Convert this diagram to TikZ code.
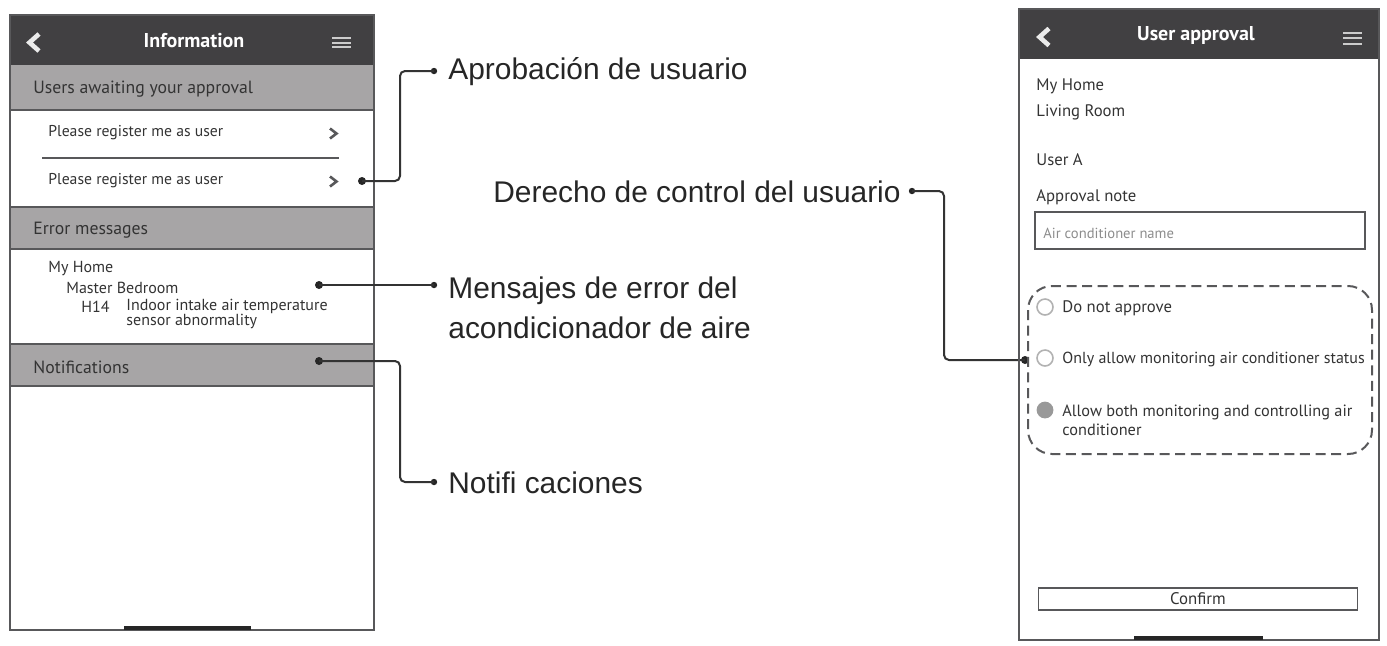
\documentclass[tikz,border=0pt]{standalone}
\usepackage{fontspec}
\setmainfont{PT Sans}
\newfontfamily\labelfont{Liberation Sans}
\definecolor{bardark}{HTML}{414042}
\definecolor{bargrey}{HTML}{A7A5A6}
\definecolor{inktext}{HTML}{333333}
\definecolor{framegrey}{HTML}{58585A}
\tikzset{
 x=0.5pt,y=-0.5pt,
 uitext/.style={anchor=west,inner sep=0pt,text=inktext,font=\fontsize{8}{9}\selectfont},
 headtext/.style={uitext,font=\fontsize{8.85}{10}\selectfont},
 rowtext/.style={uitext,font=\fontsize{7.85}{9}\selectfont},
 formtext/.style={uitext,font=\fontsize{8.35}{9}\selectfont},
 titletext/.style={anchor=center,inner sep=0pt,text=white,font=\fontsize{10}{11}\selectfont\bfseries},
 calltext/.style={anchor=west,inner sep=0pt,text=black!85,font=\labelfont\fontsize{14.95}{20}\selectfont,align=left},
 frameline/.style={draw=framegrey,line width=0.7pt},
 sepline/.style={draw=framegrey,line width=0.9pt},
 dotnode/.style={circle,fill=black!85,inner sep=0pt,minimum size=4pt},
 smalldot/.style={circle,fill=black!85,inner sep=0pt,minimum size=3.2pt},
 leader/.style={draw=black!80,line width=1pt,rounded corners=2.5pt},
 chev/.style={draw=white!92!black,line width=2.3pt,line join=miter},
 chevsmall/.style={draw=framegrey,line width=1.3pt},
 burger/.style={draw=white!80!black,line width=1pt},
 radio/.style={circle,draw=black!30,line width=0.8pt,fill=white,inner sep=0pt,minimum size=8pt},
 radioon/.style={circle,fill=black!40,inner sep=0pt,minimum size=8.4pt},
}
\begin{document}
\begin{tikzpicture}
\useasboundingbox (0,0) rectangle (1387,645);
% left phone
\fill[bardark] (10,15) rectangle (374,65);
\fill[bargrey] (10,65) rectangle (374,110);
\fill[bargrey] (10,207) rectangle (374,249);
\fill[bargrey] (10,344) rectangle (374,386);
\draw[frameline] (10,15) rectangle (374,630);
\draw[sepline] (10,110)--(374,110) (10,207)--(374,207) (10,249)--(374,249) (10,344)--(374,344) (10,386)--(374,386);
\draw[sepline,line width=0.7pt] (42,158)--(339,158);
\fill[black!85] (124,625.5) rectangle (251,629.5);
\draw[chev] (39,34)--(29.5,42.5)--(39,51);
\draw[burger] (332,38)--(351,38) (332,42.5)--(351,42.5) (332,47)--(351,47);
\node[titletext] (t1) at (194,41) {Information};
\node[headtext] (h1) at (33,89) {Users awaiting your approval};
\node[rowtext] (r1) at (48,132.5) {Please register me as user};
\node[rowtext] (r2) at (48,181) {Please register me as user};
\draw[chevsmall] (330,128.5)--(336.5,133.5)--(330,138.5);
\draw[chevsmall] (330,176.5)--(336.5,181.5)--(330,186.5);
\node[headtext] (h2) at (33,230) {Error messages};
\node[uitext] (e1) at (48,269) {My Home};
\node[uitext] (e2) at (66,288) {Master Bedroom};
\node[uitext] (e3) at (81,307) {H14};
\node[uitext,align=left,font=\fontsize{8}{7.4}\selectfont] (e4) at (126,314) {Indoor intake air temperature\\sensor abnormality};
\node[headtext] (h3) at (33,367) {Notifications};
% callouts
\node[calltext] (c1) at (448,72) {Aprobación de usuario};
\node[calltext] (c2) at (448,308) {Mensajes de error del\\acondicionador de aire};
\node[calltext] (c3) at (448,483) {Notifi caciones};
\node[calltext,anchor=east] (c4) at (901,192) {Derecho de control del usuario};
\node[dotnode] (d1a) at (362,181) {};
\node[smalldot] (d1b) at (434,71) {};
\node[dotnode] (d2a) at (319,285) {};
\node[smalldot] (d2b) at (434,285) {};
\node[dotnode] (d3a) at (319,361) {};
\node[smalldot] (d3b) at (434,482) {};
\node[smalldot] (d4a) at (912,191) {};
\node[dotnode] (d4b) at (1025,360) {};
\draw[leader] (d1a.center)--(400,181)--(400,71)--(d1b.center);
\draw[leader] (d2a.center)--(d2b.center);
\draw[leader] (d3a.center)--(400,361)--(400,482)--(d3b.center);
\draw[leader] (d4a.center)--(944,191)--(944,360)--(d4b.center);
% right phone
\fill[bardark] (1019,9) rectangle (1379,59);
\draw[frameline] (1019,9) rectangle (1379,640);
\fill[black!85] (1134,635.5) rectangle (1263,639.5);
\draw[chev] (1049,28.5)--(1039.5,37)--(1049,45.5);
\draw[burger] (1343,32.5)--(1362,32.5) (1343,38)--(1362,38) (1343,43.5)--(1362,43.5);
\node[titletext] (t2) at (1196,35) {User approval};
\node[formtext] (m1) at (1036,86) {My Home};
\node[formtext] (m2) at (1036,112) {Living Room};
\node[formtext] (m3) at (1036,160) {User A};
\node[formtext] (m4) at (1036,197) {Approval note};
\draw[sepline] (1035,212) rectangle (1365,249);
\node[uitext,text=black!45,font=\fontsize{7.3}{8}\selectfont] (m5) at (1043,233) {Air conditioner name};
\draw[draw=framegrey,line width=1pt,dash pattern=on 5pt off 2.8pt,rounded corners=12pt] (1028,286) rectangle (1372,454);
\node[radio] (o1) at (1045,307) {};
\node[radio] (o2) at (1045,358) {};
\node[radioon] (o3) at (1045,410) {};
\node[formtext] (p1) at (1062,308) {Do not approve};
\node[uitext] (p2) at (1062,359) {Only allow monitoring air conditioner status};
\node[uitext,align=left,font=\fontsize{8.15}{9.4}\selectfont] (p3) at (1062,420) {Allow both monitoring and controlling air\\conditioner};
\node[draw=framegrey,line width=0.7pt,minimum width=159.5pt,minimum height=11pt,inner sep=0pt,text=inktext,font=\fontsize{8.4}{9}\selectfont] (btn) at (1198,599) {Confirm};
\end{tikzpicture}
\end{document}
